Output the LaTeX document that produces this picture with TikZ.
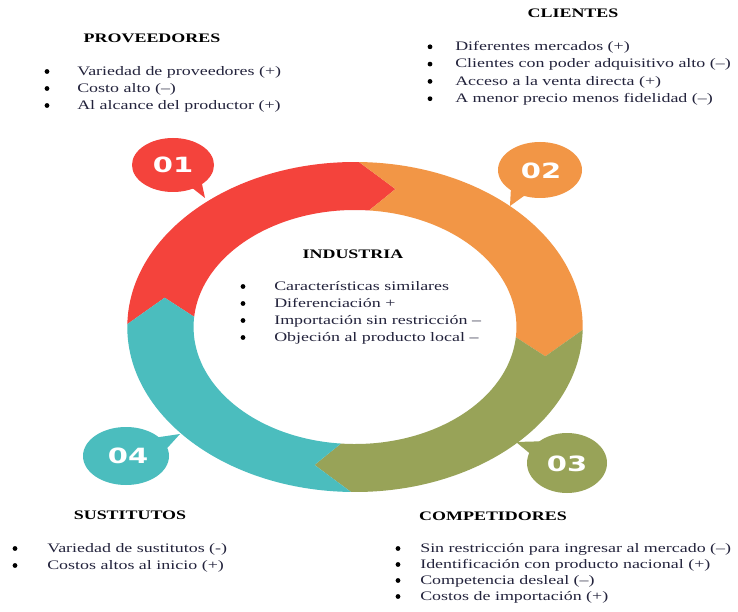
\documentclass[tikz,border=0pt]{standalone}
\usepackage{fontspec}
\setmainfont{Liberation Serif}
\newfontfamily\numfont{DejaVu Sans}
\usetikzlibrary{calc}
\definecolor{cred}{RGB}{244,67,60}
\definecolor{corange}{RGB}{242,150,70}
\definecolor{cgreen}{RGB}{152,163,88}
\definecolor{cteal}{RGB}{75,189,190}
\definecolor{ctext}{RGB}{35,35,60}
\newcommand\ringseg[3]{%
  \fill[#1] (#2:165pt) arc[start angle=#2, end angle=#3, radius=165pt]
    -- ({#3-11}:141pt) -- ({#3-4}:117pt)
    arc[start angle={#3-4}, end angle={#2-4}, radius=117pt]
    -- ({#2-11}:141pt) -- cycle;}
\newcommand\bubble[8]{% name, color, cx, cy, rx, ry, t1, t2
  \fill[#2] (#3,#4) ellipse [x radius=#5pt, y radius=#6pt];
  \fill[#2] ($(#3,#4)+(#7:{0.9*#5pt} and {0.9*#6pt})$) -- (#1tip) -- ($(#3,#4)+(#8:{0.9*#5pt} and {0.9*#6pt})$) -- cycle;}
\begin{document}
\begin{tikzpicture}[x=1pt,y=-1pt,
  heading/.style={font=\fontsize{13}{15}\selectfont\bfseries, text=black, xscale=1.38, inner sep=0pt, anchor=mid},
  item/.style={font=\fontsize{13}{15}\selectfont, text=ctext, xscale=1.38, inner sep=0pt, anchor=mid west},
  bul/.style={circle, fill=black, inner sep=0pt, minimum size=4.8pt, yshift=1.5pt},
  numtxt/.style={font=\numfont\bfseries\fontsize{21}{23}\selectfont, text=white, xscale=1.38, inner sep=0pt}]
\useasboundingbox (0,0) rectangle (738,612);
\fill[white] (0,0) rectangle (738,612);

% ring
\begin{scope}[shift={(355,327)}, xscale=1.38]
  \ringseg{cred}{179}{89}
  \ringseg{corange}{89}{-1}
  \ringseg{cgreen}{-1}{-91}
  \ringseg{cteal}{-91}{-181}
\end{scope}

% bubbles
\coordinate (b1tip) at (205,198);
\coordinate (b2tip) at (510,206);
\coordinate (b3tip) at (516,442);
\coordinate (b4tip) at (180,434);
\bubble{b1}{cred}{173}{165}{41}{27}{-40}{-62}
\bubble{b2}{corange}{540}{170}{42}{28}{-110}{-140}
\bubble{b3}{cgreen}{567}{463}{40}{30}{126}{164}
\bubble{b4}{cteal}{126}{456}{43}{29}{44}{10}
\node[numtxt] (n1) at (173,165) {01};
\node[numtxt] (n2) at (541,171) {02};
\node[numtxt] (n3) at (567,464) {03};
\node[numtxt] (n4) at (128,456) {04};

% PROVEEDORES
\node[heading] (hprov) at (152,40) {PROVEEDORES};
\foreach \t [count=\i] in {Variedad de proveedores (+), Costo alto (–), Al alcance del productor (+)} {
  \node[bul] (pb\i) at (47,{56+17*\i}) {};
  \node[item] (pt\i) at (77,{56+17*\i}) {\t};
}

% CLIENTES
\node[heading] (hcli) at (573,15) {CLIENTES};
\foreach \t [count=\i] in {Diferentes mercados (+), Clientes con poder adquisitivo alto (–), Acceso a la venta directa (+), A menor precio menos fidelidad (–)} {
  \node[bul] (cb\i) at (430,{31+17.3*\i}) {};
  \node[item] (ct\i) at (455,{31+17.3*\i}) {\t};
}

% INDUSTRIA
\node[heading] (hind) at (353,256) {INDUSTRIA};
\foreach \t [count=\i] in {Características similares, Diferenciación +, Importación sin restricción –, Objeción al producto local –} {
  \node[bul] (ib\i) at (243,{271+17*\i}) {};
  \node[item] (it\i) at (274,{271+17*\i}) {\t};
}

% SUSTITUTOS
\node[heading] (hsus) at (130,517) {SUSTITUTOS};
\foreach \t [count=\i] in {Variedad de sustitutos (-), Costos altos al inicio (+)} {
  \node[bul] (sb\i) at (15,{533+17*\i}) {};
  \node[item] (st\i) at (47,{533+17*\i}) {\t};
}

% COMPETIDORES
\node[heading] (hcom) at (493,518) {COMPETIDORES};
\foreach \t [count=\i] in {Sin restricción para ingresar al mercado (–), Identificación con producto nacional (+), Competencia desleal (–), Costos de importación (+)} {
  \node[bul] (mb\i) at (398,{534+16*\i}) {};
  \node[item] (mt\i) at (420,{534+16*\i}) {\t};
}
\end{tikzpicture}
\end{document}
